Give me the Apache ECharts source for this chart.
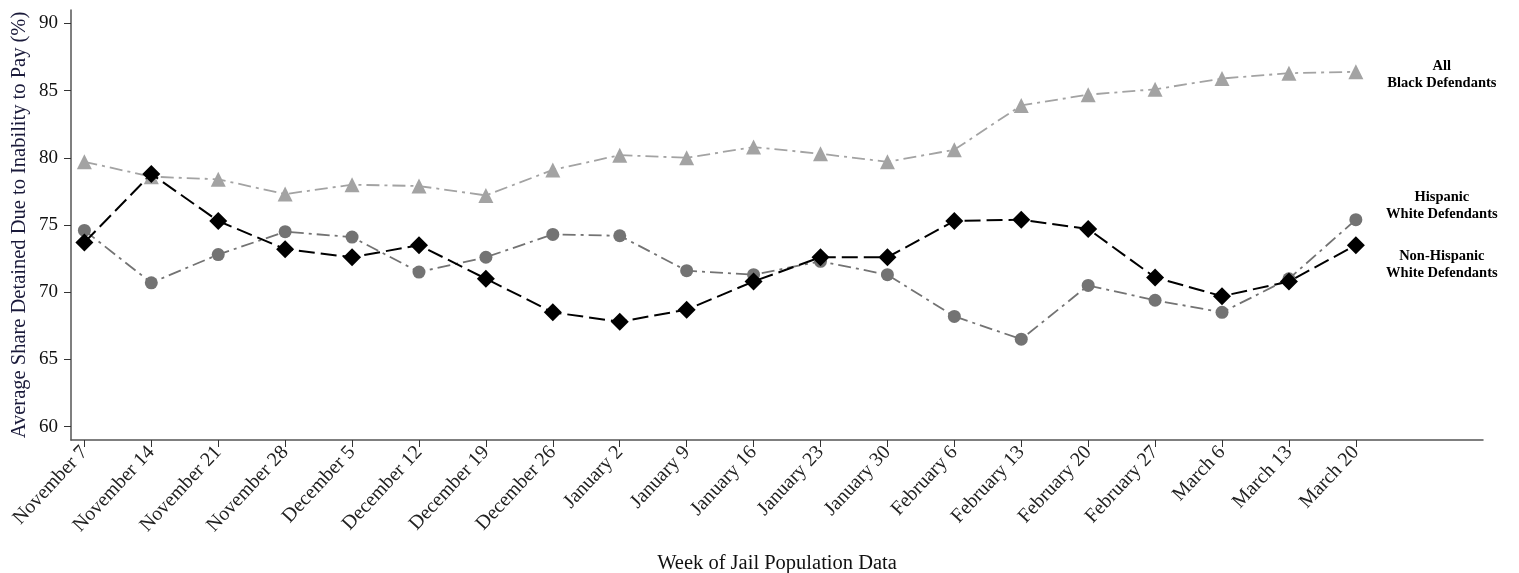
<!DOCTYPE html>
<html>
<head>
<meta charset="utf-8">
<script src="https://cdn.jsdelivr.net/npm/echarts@6/dist/echarts.min.js"></script>
<style>
  html, body { margin: 0; padding: 0; background: #fff; }
  #chart { width: 1519px; height: 573px; }
</style>
</head>
<body>
<div id="chart"></div>
<script>
const weeks = ["November 7","November 14","November 21","November 28","December 5","December 12","December 19","December 26","January 2","January 9","January 16","January 23","January 30","February 6","February 13","February 20","February 27","March 6","March 13","March 20"];
const allBlack = [79.7,78.6,78.4,77.3,78.0,77.9,77.2,79.1,80.2,80.0,80.8,80.3,79.7,80.6,83.9,84.7,85.1,85.9,86.3,86.4];
const hispanicWhite = [74.6,70.7,72.8,74.5,74.1,71.5,72.6,74.3,74.2,71.6,71.3,72.3,71.3,68.2,66.5,70.5,69.4,68.5,71.0,75.4];
const nonHispanicWhite = [73.7,78.8,75.3,73.2,72.6,73.5,71.0,68.5,67.8,68.7,70.8,72.6,72.6,75.3,75.4,74.7,71.1,69.7,70.8,73.5];
const yTicks = [60,65,70,75,80,85,90];
const seriesNames = ["All\nBlack Defendants","Hispanic\nWhite Defendants","Non-Hispanic\nWhite Defendants"];

const toPairs = arr => arr.map((v, i) => [i, v]);
const font = "Liberation Serif";
const chart = echarts.init(document.getElementById('chart'), null, {renderer: 'canvas'});

const labelStyle = (offsetY) => ({
  show: true,
  formatter: p => p.seriesName,
  fontFamily: font,
  fontWeight: 'bold',
  fontSize: 14.5,
  color: '#000',
  lineHeight: 17,
  align: 'center',
  verticalAlign: 'middle',
  offset: [78, offsetY]
});

chart.setOption({
  animation: false,
  grid: { left: 71, right: 36, top: 10, bottom: 133, containLabel: false, outerBoundsMode: 'none' },
  xAxis: {
    type: 'value',
    min: -0.2,
    max: 20.9,
    name: 'Week of Jail Population Data',
    nameLocation: 'middle',
    nameGap: 113,
    nameMoveOverlap: false,
    nameTextStyle: { fontFamily: font, fontSize: 20.5, color: '#111' },
    axisLine: { show: true, onZero: false, lineStyle: { color: '#555', width: 1.5 } },
    axisTick: { show: true, customValues: weeks.map((w, i) => i), length: 7, lineStyle: { color: '#333', width: 1 } },
    axisLabel: {
      customValues: weeks.map((w, i) => i),
      formatter: v => weeks[Math.round(v)],
      rotate: 47,
      fontFamily: font,
      fontSize: 20,
      color: '#222',
      margin: 9
    },
    splitLine: { show: false }
  },
  yAxis: {
    type: 'value',
    min: 59,
    max: 91,
    name: 'Average Share Detained Due to Inability to Pay (%)',
    nameLocation: 'middle',
    nameGap: 41,
    nameMoveOverlap: false,
    nameTextStyle: { fontFamily: font, fontSize: 20.5, color: '#1a1a3a' },
    axisLine: { show: true, onZero: false, lineStyle: { color: '#555', width: 1.5 } },
    axisTick: { show: true, customValues: yTicks, length: 7, lineStyle: { color: '#333' } },
    axisLabel: { customValues: yTicks, fontFamily: font, fontSize: 19, color: '#111', margin: 13 },
    splitLine: { show: false }
  },
  series: [
    {
      name: seriesNames[0], type: 'line', data: toPairs(allBlack),
      symbol: 'triangle', symbolSize: 15,
      itemStyle: { color: '#a3a3a3' },
      lineStyle: { color: '#a3a3a3', width: 1.8, type: [13, 5, 3, 5] },
      endLabel: labelStyle(3)
    },
    {
      name: seriesNames[1], type: 'line', data: toPairs(hispanicWhite),
      symbol: 'circle', symbolSize: 13,
      itemStyle: { color: '#737373' },
      lineStyle: { color: '#737373', width: 1.8, type: [13, 5, 3, 5] },
      endLabel: labelStyle(-14)
    },
    {
      name: seriesNames[2], type: 'line', data: toPairs(nonHispanicWhite),
      symbol: 'diamond', symbolSize: 18,
      itemStyle: { color: '#000' },
      lineStyle: { color: '#000', width: 2, type: [16, 6] },
      endLabel: labelStyle(20)
    }
  ]
});
</script>
</body>
</html>
